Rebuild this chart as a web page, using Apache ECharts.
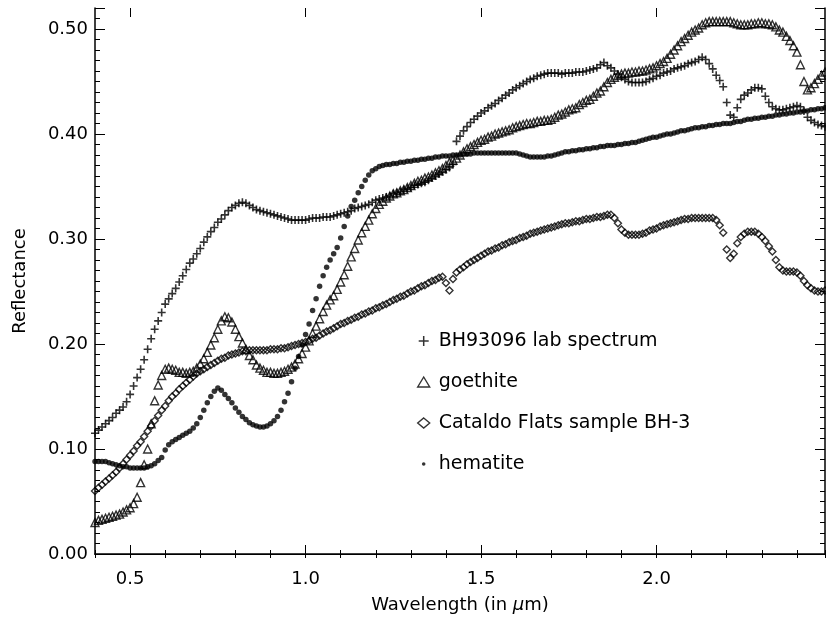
<!DOCTYPE html>
<html><head><meta charset="utf-8">
<script src="https://cdn.jsdelivr.net/npm/echarts@6/dist/echarts.min.js"></script>
<style>html,body{margin:0;padding:0;background:#fff}#chart{width:826px;height:627px}</style>
</head><body><div id="chart"></div>
<script>
const wavelengths = [
0.40,0.41,0.42,0.43,0.44,0.45,0.46,0.47,0.48,0.49,
0.50,0.51,0.52,0.53,0.54,0.55,0.56,0.57,0.58,0.59,
0.60,0.61,0.62,0.63,0.64,0.65,0.66,0.67,0.68,0.69,
0.70,0.71,0.72,0.73,0.74,0.75,0.76,0.77,0.78,0.79,
0.80,0.81,0.82,0.83,0.84,0.85,0.86,0.87,0.88,0.89,
0.90,0.91,0.92,0.93,0.94,0.95,0.96,0.97,0.98,0.99,
1.00,1.01,1.02,1.03,1.04,1.05,1.06,1.07,1.08,1.09,
1.10,1.11,1.12,1.13,1.14,1.15,1.16,1.17,1.18,1.19,
1.20,1.21,1.22,1.23,1.24,1.25,1.26,1.27,1.28,1.29,
1.30,1.31,1.32,1.33,1.34,1.35,1.36,1.37,1.38,1.39,
1.40,1.41,1.42,1.43,1.44,1.45,1.46,1.47,1.48,1.49,
1.50,1.51,1.52,1.53,1.54,1.55,1.56,1.57,1.58,1.59,
1.60,1.61,1.62,1.63,1.64,1.65,1.66,1.67,1.68,1.69,
1.70,1.71,1.72,1.73,1.74,1.75,1.76,1.77,1.78,1.79,
1.80,1.81,1.82,1.83,1.84,1.85,1.86,1.87,1.88,1.89,
1.90,1.91,1.92,1.93,1.94,1.95,1.96,1.97,1.98,1.99,
2.00,2.01,2.02,2.03,2.04,2.05,2.06,2.07,2.08,2.09,
2.10,2.11,2.12,2.13,2.14,2.15,2.16,2.17,2.18,2.19,
2.20,2.21,2.22,2.23,2.24,2.25,2.26,2.27,2.28,2.29,
2.30,2.31,2.32,2.33,2.34,2.35,2.36,2.37,2.38,2.39,
2.40,2.41,2.42,2.43,2.44,2.45,2.46,2.47,2.48];

const bh93096 = [
0.115,0.118,0.121,0.124,0.127,0.130,0.134,0.137,0.140,0.145,
0.152,0.160,0.168,0.176,0.185,0.195,0.205,0.214,0.222,0.230,
0.238,0.243,0.248,0.253,0.259,0.265,0.271,0.277,0.281,0.286,
0.291,0.297,0.302,0.307,0.311,0.316,0.319,0.323,0.327,0.330,
0.332,0.334,0.335,0.334,0.332,0.330,0.328,0.327,0.326,0.325,
0.324,0.323,0.322,0.321,0.320,0.319,0.318,0.318,0.318,0.318,
0.318,0.319,0.320,0.320,0.320,0.321,0.321,0.321,0.322,0.323,
0.324,0.325,0.326,0.327,0.329,0.330,0.331,0.332,0.333,0.335,
0.337,0.338,0.339,0.340,0.341,0.343,0.344,0.345,0.347,0.348,
0.349,0.351,0.352,0.353,0.354,0.356,0.358,0.360,0.362,0.364,
0.366,0.368,0.371,0.393,0.398,0.403,0.407,0.411,0.414,0.417,
0.420,0.422,0.425,0.427,0.429,0.432,0.434,0.437,0.439,0.442,
0.444,0.446,0.448,0.450,0.452,0.453,0.455,0.456,0.457,0.458,
0.458,0.458,0.458,0.457,0.458,0.458,0.458,0.459,0.459,0.459,
0.460,0.461,0.462,0.463,0.466,0.468,0.465,0.463,0.460,0.457,
0.454,0.452,0.450,0.449,0.449,0.449,0.449,0.450,0.452,0.453,
0.455,0.456,0.458,0.459,0.460,0.462,0.463,0.464,0.465,0.467,
0.468,0.469,0.471,0.473,0.471,0.467,0.462,0.456,0.451,0.445,
0.430,0.418,0.416,0.425,0.433,0.437,0.439,0.442,0.444,0.444,
0.443,0.436,0.430,0.426,0.424,0.423,0.423,0.424,0.425,0.426,
0.427,0.426,0.422,0.416,0.413,0.411,0.409,0.408,0.407];

const goethite = [
0.030,0.032,0.033,0.034,0.035,0.036,0.037,0.038,0.040,0.042,
0.044,0.048,0.054,0.068,0.085,0.100,0.124,0.146,0.161,0.170,
0.176,0.177,0.176,0.175,0.173,0.173,0.172,0.173,0.174,0.177,
0.181,0.186,0.192,0.199,0.206,0.214,0.222,0.226,0.225,0.221,
0.214,0.207,0.201,0.195,0.189,0.185,0.180,0.177,0.175,0.173,
0.173,0.172,0.172,0.173,0.174,0.176,0.178,0.181,0.186,0.191,
0.197,0.203,0.210,0.217,0.224,0.231,0.237,0.242,0.246,0.252,
0.259,0.266,0.274,0.283,0.291,0.299,0.306,0.312,0.318,0.324,
0.329,0.333,0.336,0.339,0.341,0.343,0.344,0.346,0.347,0.349,
0.351,0.353,0.355,0.356,0.358,0.359,0.361,0.363,0.365,0.367,
0.370,0.373,0.375,0.377,0.380,0.383,0.386,0.388,0.390,0.392,
0.394,0.395,0.397,0.398,0.400,0.401,0.402,0.403,0.404,0.406,
0.407,0.408,0.409,0.410,0.410,0.411,0.412,0.412,0.413,0.413,
0.414,0.416,0.418,0.419,0.421,0.423,0.424,0.425,0.428,0.430,
0.432,0.433,0.436,0.439,0.441,0.445,0.449,0.452,0.454,0.456,
0.457,0.458,0.458,0.459,0.459,0.460,0.460,0.461,0.462,0.463,
0.465,0.467,0.469,0.472,0.476,0.480,0.484,0.488,0.491,0.494,
0.497,0.499,0.501,0.504,0.506,0.507,0.507,0.507,0.507,0.507,
0.507,0.507,0.506,0.505,0.504,0.504,0.504,0.505,0.505,0.506,
0.506,0.505,0.505,0.504,0.502,0.499,0.497,0.493,0.489,0.484,
0.478,0.466,0.450,0.442,0.444,0.448,0.452,0.456,0.459];

const cataldoBH3 = [
0.060,0.063,0.066,0.069,0.072,0.075,0.078,0.082,0.086,0.090,
0.094,0.098,0.103,0.107,0.112,0.117,0.122,0.127,0.132,0.137,
0.141,0.146,0.150,0.153,0.157,0.160,0.163,0.166,0.169,0.172,
0.174,0.176,0.178,0.180,0.182,0.184,0.186,0.187,0.189,0.190,
0.191,0.192,0.193,0.193,0.194,0.194,0.194,0.194,0.194,0.194,
0.195,0.195,0.195,0.196,0.196,0.197,0.198,0.199,0.200,0.201,
0.202,0.203,0.205,0.206,0.208,0.210,0.212,0.213,0.215,0.217,
0.219,0.220,0.222,0.223,0.225,0.226,0.228,0.229,0.231,0.232,
0.234,0.235,0.237,0.238,0.240,0.242,0.243,0.245,0.246,0.248,
0.250,0.251,0.253,0.255,0.256,0.258,0.260,0.261,0.263,0.264,
0.258,0.251,0.262,0.268,0.271,0.273,0.276,0.278,0.280,0.282,
0.284,0.286,0.288,0.289,0.291,0.292,0.294,0.295,0.297,0.298,
0.299,0.301,0.302,0.303,0.305,0.306,0.307,0.308,0.309,0.310,
0.311,0.312,0.313,0.314,0.315,0.315,0.316,0.317,0.317,0.318,
0.319,0.319,0.320,0.321,0.321,0.322,0.323,0.323,0.320,0.315,
0.309,0.306,0.304,0.304,0.304,0.304,0.305,0.306,0.308,0.309,
0.310,0.312,0.313,0.314,0.315,0.316,0.317,0.318,0.319,0.319,
0.320,0.320,0.320,0.320,0.320,0.320,0.320,0.318,0.313,0.306,
0.290,0.282,0.286,0.296,0.302,0.305,0.307,0.307,0.307,0.305,
0.302,0.298,0.293,0.288,0.280,0.273,0.270,0.269,0.269,0.269,
0.268,0.265,0.260,0.256,0.253,0.251,0.250,0.250,0.251];

const hematite = [
0.088,0.088,0.088,0.088,0.087,0.086,0.085,0.084,0.083,0.083,
0.082,0.082,0.082,0.082,0.082,0.083,0.084,0.086,0.089,0.092,
0.099,0.104,0.107,0.109,0.111,0.113,0.115,0.117,0.120,0.124,
0.130,0.137,0.144,0.150,0.155,0.158,0.156,0.152,0.148,0.144,
0.139,0.135,0.131,0.128,0.125,0.123,0.122,0.121,0.121,0.122,
0.124,0.127,0.131,0.137,0.145,0.153,0.164,0.177,0.188,0.199,
0.209,0.219,0.232,0.243,0.255,0.265,0.273,0.280,0.286,0.292,
0.301,0.312,0.322,0.331,0.337,0.344,0.350,0.356,0.361,0.365,
0.367,0.369,0.370,0.371,0.371,0.372,0.372,0.373,0.373,0.374,
0.374,0.375,0.375,0.376,0.376,0.377,0.377,0.378,0.378,0.379,
0.379,0.379,0.380,0.380,0.380,0.381,0.381,0.381,0.382,0.382,
0.382,0.382,0.382,0.382,0.382,0.382,0.382,0.382,0.382,0.382,
0.382,0.381,0.380,0.379,0.378,0.378,0.378,0.378,0.378,0.379,
0.379,0.380,0.381,0.382,0.383,0.383,0.384,0.384,0.385,0.385,
0.386,0.386,0.387,0.387,0.388,0.388,0.389,0.389,0.389,0.390,
0.390,0.391,0.391,0.392,0.392,0.393,0.394,0.395,0.396,0.397,
0.397,0.398,0.399,0.400,0.400,0.401,0.402,0.403,0.403,0.404,
0.405,0.406,0.406,0.407,0.407,0.408,0.408,0.409,0.409,0.410,
0.410,0.410,0.411,0.412,0.412,0.413,0.414,0.414,0.415,0.415,
0.416,0.416,0.417,0.417,0.418,0.418,0.419,0.419,0.420,0.420,
0.421,0.421,0.422,0.422,0.423,0.423,0.424,0.424,0.425];

const seriesNames = ['BH93096 lab spectrum', 'goethite', 'Cataldo Flats sample BH-3', 'hematite'];
const xTickLabels = [0.5, 1.0, 1.5, 2.0];
const yTickLabels = [0.0, 0.1, 0.2, 0.3, 0.4, 0.5];

const FONT = 'DejaVu Sans';
const PLUS = 'path://M0 5H10M5 0V10';
const DOT = 'path://M0 0M10 10M3.2 5a1.8 1.8 0 1 0 3.6 0a1.8 1.8 0 1 0 -3.6 0z';

function pairs(ys) { return wavelengths.map((w, i) => [w, ys[i]]); }

const chart = echarts.init(document.getElementById('chart'), null, {renderer: 'canvas'});
const black = '#000';
const xBase = {type: 'value', min: 0.4, max: 2.48, splitLine: {show: false}};
const yBase = {type: 'value', min: 0, max: 0.52, interval: 0.1, splitLine: {show: false}};
const axisLine = {show: true, lineStyle: {color: black, width: 1.5}};
const tickStyle = {color: black, width: 1};

chart.setOption({
  animation: false,
  backgroundColor: '#fff',
  grid: {left: 95, right: 1, top: 8, bottom: 73, containLabel: false},
  xAxis: [
    Object.assign({}, xBase, {
      position: 'bottom', interval: 0.1,
      axisLine: axisLine,
      axisTick: {inside: true, length: 4, lineStyle: tickStyle},
      axisLabel: {customValues: xTickLabels, formatter: v => v.toFixed(1), margin: 16,
        color: black, fontSize: 18, fontFamily: FONT},
      name: 'Wavelength (in {i|μ}m)', nameLocation: 'middle', nameGap: 42,
      nameTextStyle: {color: black, fontSize: 18, fontFamily: FONT,
        rich: {i: {fontStyle: 'italic', fontSize: 18, fontFamily: FONT, color: black}}}
    }),
    Object.assign({}, xBase, {
      position: 'top', interval: 0.1,
      axisLine: {show: true, lineStyle: {color: black, width: 1}},
      axisTick: {inside: true, length: 4, lineStyle: tickStyle},
      axisLabel: {show: false}
    }),
    Object.assign({}, xBase, {
      position: 'bottom',
      axisLine: {show: false},
      axisTick: {inside: true, length: 9, customValues: xTickLabels, lineStyle: tickStyle},
      axisLabel: {show: false}
    }),
    Object.assign({}, xBase, {
      position: 'top',
      axisLine: {show: false},
      axisTick: {inside: true, length: 9, customValues: xTickLabels, lineStyle: tickStyle},
      axisLabel: {show: false}
    })
  ],
  yAxis: [
    Object.assign({}, yBase, {
      position: 'left',
      axisLine: axisLine,
      axisTick: {inside: true, length: 10, lineStyle: tickStyle},
      minorTick: {show: true, splitNumber: 10, length: 5, lineStyle: tickStyle},
      axisLabel: {customValues: yTickLabels, formatter: v => v.toFixed(2), margin: 7,
        color: black, fontSize: 18, fontFamily: FONT},
      name: 'Reflectance', nameLocation: 'middle', nameGap: 66,
      nameTextStyle: {color: black, fontSize: 18, fontFamily: FONT}
    }),
    Object.assign({}, yBase, {
      position: 'right',
      axisLine: axisLine,
      axisTick: {inside: true, length: 10, lineStyle: tickStyle},
      minorTick: {show: true, splitNumber: 10, length: 5, lineStyle: tickStyle},
      axisLabel: {show: false}
    })
  ],
  legend: {
    orient: 'vertical', left: 412, top: 326, itemWidth: 12, itemHeight: 10, itemGap: 21,
    selectedMode: false,
    textStyle: {color: black, fontSize: 19, fontFamily: FONT, lineHeight: 20, padding: [0, 0, 0, 4]},
    data: [
      {name: seriesNames[0], icon: PLUS, itemStyle: {color: 'transparent', borderColor: black, borderWidth: 1.5}},
      {name: seriesNames[1], icon: 'triangle', itemStyle: {color: 'transparent', borderColor: black, borderWidth: 1.4}},
      {name: seriesNames[2], icon: 'diamond', itemStyle: {color: 'transparent', borderColor: black, borderWidth: 1.4}},
      {name: seriesNames[3], icon: DOT, itemStyle: {color: black, borderWidth: 0}}
    ]
  },
  series: [
    {type: 'scatter', name: seriesNames[0], data: pairs(bh93096), symbol: PLUS, symbolSize: 8,
      itemStyle: {color: 'transparent', borderColor: black, borderWidth: 1.6}, emphasis: {disabled: true}},
    {type: 'scatter', name: seriesNames[1], data: pairs(goethite), symbol: 'triangle', symbolSize: 8,
      itemStyle: {color: 'transparent', borderColor: black, borderWidth: 1.4}, emphasis: {disabled: true}},
    {type: 'scatter', name: seriesNames[2], data: pairs(cataldoBH3), symbol: 'diamond', symbolSize: 7,
      itemStyle: {color: 'transparent', borderColor: black, borderWidth: 1.4}, emphasis: {disabled: true}},
    {type: 'scatter', name: seriesNames[3], data: pairs(hematite), symbol: 'circle', symbolSize: 5.5,
      itemStyle: {color: black}, emphasis: {disabled: true}}
  ]
});
</script>
</body></html>
